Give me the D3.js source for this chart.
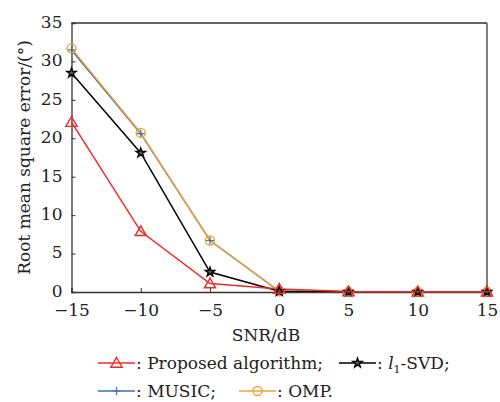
<!DOCTYPE html>
<html>
<head>
<meta charset="utf-8">
<script src="https://cdn.jsdelivr.net/npm/d3@7"></script>
<style>
  body { margin: 0; background: #fff; }
  svg text { font-family: "DejaVu Serif", serif; }
</style>
</head>
<body>
<svg width="500" height="402"></svg>
<script>
// data
const snr = [-15, -10, -5, 0, 5, 10, 15];
const proposed = [22.1, 7.9, 1.1, 0.4, 0.05, 0.02, 0.02];
const l1svd = [28.5, 18.1, 2.6, 0.1, 0.02, 0.02, 0.02];
const music = [31.5, 20.6, 6.7, 0.1, 0.02, 0.02, 0.02];
const omp = [31.7, 20.7, 6.7, 0.1, 0.02, 0.02, 0.02];
const yTicks = [0, 5, 10, 15, 20, 25, 30, 35];

const series = [
  { name: "MUSIC", values: music, color: "#3d6fb6", marker: "plus" },
  { name: "OMP", values: omp, color: "#e9a33c", marker: "circle" },
  { name: "l1", values: l1svd, color: "#000", marker: "star" },
  { name: "Proposed", values: proposed, color: "#f02a2a", marker: "triangle" }
];

const margin = { top: 23, right: 13, bottom: 110, left: 71.5 };
const width = 500 - margin.left - margin.right;
const height = 402 - margin.top - margin.bottom;
const fontSize = "17px";

const svg = d3.select("svg");
const g = svg.append("g")
  .attr("transform", "translate(" + margin.left + "," + margin.top + ")");

const x = d3.scaleLinear().domain([-15, 15]).range([0, width]);
const y = d3.scaleLinear().domain([0, 35]).range([height, 0]);

const fmt = d => (d < 0 ? "\u2212" + Math.abs(d) : "" + d);

// axes (ticks inside)
const xAxis = g.append("g")
  .attr("transform", "translate(0," + height + ")")
  .call(d3.axisBottom(x).tickValues(snr).tickSize(-4).tickPadding(12).tickFormat(fmt));
const yAxis = g.append("g")
  .call(d3.axisLeft(y).tickValues(yTicks).tickSize(-4).tickPadding(9));
[xAxis, yAxis].forEach(a => {
  a.attr("font-family", null).attr("font-size", null);
  a.selectAll("text")
    .style("font-size", fontSize)
    .attr("fill", "#222");
  a.select(".domain").attr("stroke", "#333").attr("stroke-width", 1.3);
  a.selectAll(".tick line").attr("stroke", "#333");
});
yAxis.selectAll("text").attr("dy", "0.26em");

// frame top and right
g.append("line").attr("x1", 0).attr("x2", width).attr("y1", 0).attr("y2", 0)
  .attr("stroke", "#333").attr("stroke-width", 1.3);
g.append("line").attr("x1", width).attr("x2", width).attr("y1", 0).attr("y2", height)
  .attr("stroke", "#555").attr("stroke-width", 1.5);

// marker shapes
const sym = {
  triangle: d3.symbol().type(d3.symbolTriangle).size(55),
  star: d3.symbol().type(d3.symbolStar).size(28),
  circle: d3.symbol().type(d3.symbolCircle).size(65)
};
function drawMarker(sel, s, cx, cy) {
  if (s.marker === "plus") {
    sel.append("path")
      .attr("d", "M" + (cx - 4) + "," + cy + "H" + (cx + 4) + "M" + cx + "," + (cy - 4) + "V" + (cy + 4))
      .attr("stroke", s.color).attr("stroke-width", 1.2).attr("fill", "none");
    return;
  }
  const isStar = s.marker === "star";
  sel.append("path")
    .attr("d", sym[s.marker]())
    .attr("transform", "translate(" + cx + "," + (cy + (s.marker === "triangle" ? 1 : 0)) + ")")
    .attr("fill", isStar ? "#555" : "none")
    .attr("stroke", s.color)
    .attr("stroke-width", isStar ? 1.3 : 1.4);
}

const line = d3.line().x((d, i) => x(snr[i])).y(d => y(d));

series.forEach(s => {
  g.append("path")
    .datum(s.values)
    .attr("fill", "none")
    .attr("stroke", s.color)
    .attr("stroke-width", 1.5)
    .attr("d", line);
});
series.forEach(s => {
  s.values.forEach((v, i) => drawMarker(g, s, x(snr[i]), y(v)));
});

// axis labels
svg.append("text")
  .attr("transform", "translate(25," + (margin.top + height / 2) + ") rotate(-90)")
  .attr("text-anchor", "middle")
  .attr("dominant-baseline", "middle")
  .style("font-size", fontSize)
  .attr("fill", "#222")
  .text("Root mean square error/(\u00b0)");
svg.append("text")
  .attr("x", 266).attr("y", 341)
  .attr("text-anchor", "middle")
  .style("font-size", fontSize)
  .attr("fill", "#222")
  .text("SNR/dB");

// legend
const legendItems = [
  { s: series[3], x: 98, y: 363, label: ": Proposed algorithm;" },
  { s: series[2], x: 339, y: 363, label: null },
  { s: series[0], x: 98, y: 391, label: ": MUSIC;" },
  { s: series[1], x: 239, y: 391, label: ": OMP." }
];
legendItems.forEach(it => {
  svg.append("line")
    .attr("x1", it.x).attr("x2", it.x + 37)
    .attr("y1", it.y).attr("y2", it.y)
    .attr("stroke", it.s.color).attr("stroke-width", 1.5);
  drawMarker(svg, it.s, it.x + 18.5, it.y);
  const t = svg.append("text")
    .attr("x", it.x + 38).attr("y", it.y + 6)
    .style("font-size", fontSize)
    .attr("fill", "#222");
  if (it.label) {
    t.text(it.label);
  } else {
    t.append("tspan").text(": ");
    t.append("tspan").attr("font-style", "italic").text("l");
    t.append("tspan").style("font-size", "11px").attr("dy", 4).text("1");
    t.append("tspan").attr("dy", -4).text("-SVD;");
  }
});
</script>
</body>
</html>
